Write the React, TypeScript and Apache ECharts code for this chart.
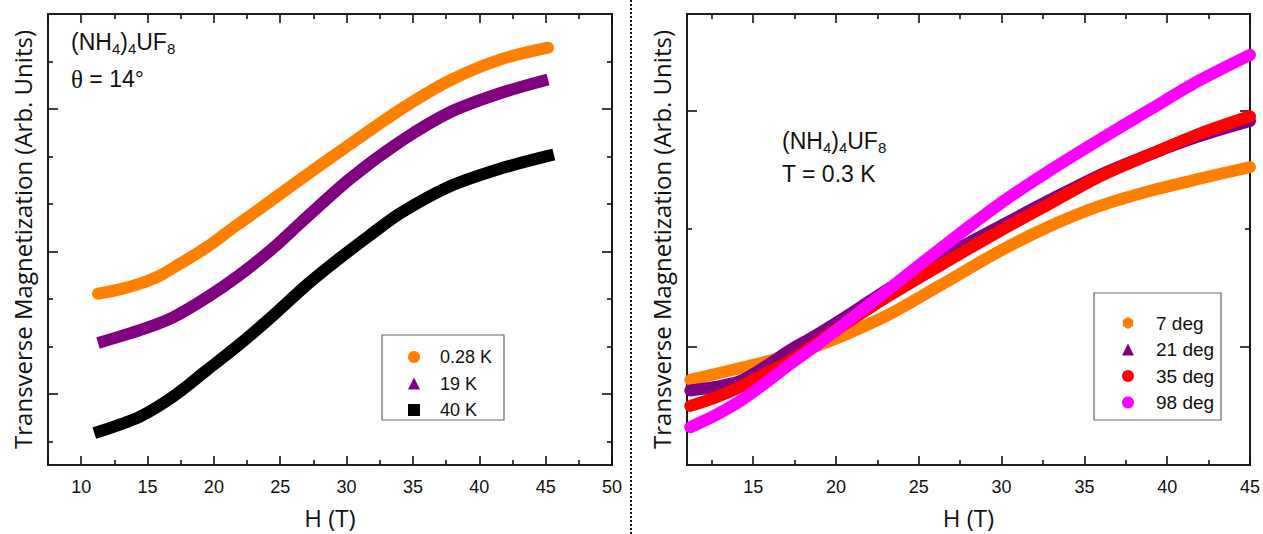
import React, { useEffect, useRef } from 'react';
import * as echarts from 'echarts';

// ---------- data ----------
// Left panel: theta = 14 deg, three temperatures
const leftNames = ['0.28 K', '19 K', '40 K'];
const leftX028 = [11.27, 12.93, 14.43, 15.94, 17.45, 19.48, 21.22, 23.63, 26.49, 29.88, 34.03, 37.79, 41.56, 45.18];
const leftY028 = [3.61, 3.70, 3.82, 3.99, 4.24, 4.59, 4.95, 5.43, 6.01, 6.68, 7.48, 8.10, 8.54, 8.79];
const leftX19 = [11.27, 14.43, 16.92, 19.48, 21.97, 24.46, 26.49, 30.26, 34.03, 37.79, 41.56, 45.18];
const leftY19 = [2.57, 2.84, 3.11, 3.53, 4.01, 4.57, 5.09, 6.03, 6.81, 7.43, 7.83, 8.12];
const leftX40 = [11.42, 14.43, 16.92, 19.48, 21.97, 24.46, 27.02, 29.5, 31.76, 34.03, 37.79, 41.56, 45.18];
const leftY40 = [0.71, 1.02, 1.44, 2.0, 2.55, 3.15, 3.8, 4.36, 4.84, 5.3, 5.87, 6.24, 6.51];

// Right panel: T = 0.3 K, four angles
const rightNames = ['7 deg', '21 deg', '35 deg', '98 deg'];
const rightX = [11.2, 12.7, 14.2, 15.7, 17.2, 18.7, 20.2, 23.3, 26.3, 29.9, 32.9, 35.9, 39.0, 41.9, 45.0];
const rightY7 = [0.72, 0.77, 0.82, 0.87, 0.93, 1.0, 1.08, 1.28, 1.52, 1.81, 2.02, 2.19, 2.32, 2.42, 2.52];
const rightY21 = [0.63, 0.66, 0.71, 0.83, 0.97, 1.09, 1.22, 1.5, 1.75, 2.02, 2.24, 2.45, 2.63, 2.78, 2.91];
const rightY35 = [0.5, 0.57, 0.66, 0.77, 0.88, 1.02, 1.16, 1.44, 1.69, 1.98, 2.21, 2.44, 2.63, 2.8, 2.95];
const rightY98 = [0.32, 0.42, 0.54, 0.69, 0.85, 1.0, 1.16, 1.5, 1.83, 2.21, 2.49, 2.75, 3.01, 3.25, 3.47];

// Axis ticks
const leftXMajor = [10, 15, 20, 25, 30, 35, 40, 45, 50];
const leftXMinor = [7.5, 12.5, 17.5, 22.5, 27.5, 32.5, 37.5, 42.5, 47.5];
const leftYMajor = [1.5, 4.5, 7.5];
const leftYMinor = [0.5, 2.5, 3.5, 5.5, 6.5, 8.5];
const rightXMajor = [15, 20, 25, 30, 35, 40, 45];
const rightXMinor = [12.5, 17.5, 22.5, 27.5, 32.5, 37.5, 42.5];
const rightYMajor = [1, 3];
const rightYMinor = [2];

const zip = (xs: number[], ys: number[]) => xs.map((x, i) => [x, ys[i]]);

const AX = '#111';
const TICK_FONT = 'Liberation Sans, Arial, sans-serif';
const TITLE_FONT = 'Open Sans';

function mkAxis(gridIndex: number, position: string, min: number, max: number, ticks: number[], len: number, extra: any = {}) {
  return {
    type: 'value',
    gridIndex,
    position,
    min,
    max,
    axisLine: { show: true, onZero: false, lineStyle: { color: AX, width: 1.6 } },
    axisTick: { show: true, inside: true, length: len, customValues: ticks, lineStyle: { color: AX, width: 1.6 } },
    axisLabel: { show: false },
    splitLine: { show: false },
    ...extra,
  };
}

const xLabel = (labels: number[]) => ({
  show: true,
  customValues: labels,
  margin: 13,
  fontSize: 18,
  color: '#111',
  fontFamily: TICK_FONT,
});

const xName = {
  name: 'H (T)',
  nameLocation: 'middle',
  nameGap: 40,
  nameTextStyle: { fontFamily: TITLE_FONT, fontSize: 24, color: '#111' },
};
const yName = {
  name: 'Transverse Magnetization (Arb. Units)',
  nameLocation: 'middle',
  nameGap: 14,
  nameRotate: 90,
  nameTextStyle: { fontFamily: TITLE_FONT, fontSize: 24, color: '#111' },
};

const MAJ = 9;
const MIN = 5;

const LX = [7.5, 50];
const LY = [0, 9.5];
const RX = [11, 45];
const RY = [0, 454 / 119];

const xAxes = [
  mkAxis(0, 'bottom', LX[0], LX[1], leftXMajor, MAJ, { axisLabel: xLabel(leftXMajor), ...xName }),
  mkAxis(0, 'bottom', LX[0], LX[1], leftXMinor, MIN),
  mkAxis(0, 'top', LX[0], LX[1], leftXMajor, MAJ),
  mkAxis(0, 'top', LX[0], LX[1], leftXMinor, MIN),
  mkAxis(1, 'bottom', RX[0], RX[1], rightXMajor, MAJ, { axisLabel: xLabel(rightXMajor), ...xName }),
  mkAxis(1, 'bottom', RX[0], RX[1], rightXMinor, MIN),
  mkAxis(1, 'top', RX[0], RX[1], rightXMajor, MAJ),
  mkAxis(1, 'top', RX[0], RX[1], rightXMinor, MIN),
];
const yAxes = [
  mkAxis(0, 'left', LY[0], LY[1], leftYMajor, MAJ + 1, yName),
  mkAxis(0, 'left', LY[0], LY[1], leftYMinor, MIN),
  mkAxis(0, 'right', LY[0], LY[1], leftYMajor, MAJ + 1),
  mkAxis(0, 'right', LY[0], LY[1], leftYMinor, MIN),
  mkAxis(1, 'left', RY[0], RY[1], rightYMajor, MAJ + 1, yName),
  mkAxis(1, 'left', RY[0], RY[1], rightYMinor, MIN),
  mkAxis(1, 'right', RY[0], RY[1], rightYMajor, MAJ + 1),
  mkAxis(1, 'right', RY[0], RY[1], rightYMinor, MIN),
];

function lineSeries(name: string, data: number[][], color: string, xi: number, yi: number, cap = 'round', z = 2) {
  return {
    name,
    type: 'line',
    xAxisIndex: xi,
    yAxisIndex: yi,
    data,
    smooth: 0.3,
    showSymbol: false,
    symbol: 'none',
    color,
    z,
    lineStyle: { color, width: 12, cap, join: 'round' },
    emphasis: { disabled: true },
  };
}

const ORANGE = '#FF8000';
const PURPLE = '#800080';
const RED = '#FF0000';
const MAGENTA = '#FF00FF';

const hexagon = 'path://M5,0 L10,2.9 L10,8.7 L5,11.6 L0,8.7 L0,2.9 Z';

const sub = { fontSize: 15, fontFamily: TICK_FONT, fill: '#111', verticalAlign: 'top', lineHeight: 17, padding: [11, 0, 0, 0] };
const main = { fontSize: 23, fontFamily: TICK_FONT, fill: '#111', verticalAlign: 'top', lineHeight: 26 };
const formula = '{m|(NH}{s|4}{m|)}{s|4}{m|UF}{s|8}';

const option: any = {
  animation: false,
  backgroundColor: '#ffffff',
  grid: [
    { left: 48, top: 14, width: 564, height: 455, containLabel: false },
    { left: 687, top: 14, width: 563, height: 454, containLabel: false },
  ],
  xAxis: xAxes,
  yAxis: yAxes,
  legend: [
    {
      orient: 'vertical',
      left: 403,
      top: 342,
      itemWidth: 12,
      itemHeight: 12,
      itemGap: 6.5,
      selectedMode: false,
      textStyle: { fontSize: 18, fontFamily: TICK_FONT, color: '#111', lineHeight: 20, padding: [0, 0, 0, 15] },
      data: [
        { name: leftNames[0], icon: 'circle' },
        { name: leftNames[1], icon: 'triangle' },
        { name: leftNames[2], icon: 'rect' },
      ],
    },
    {
      orient: 'vertical',
      left: 1117,
      top: 308,
      itemWidth: 12,
      itemHeight: 12,
      itemGap: 6.5,
      selectedMode: false,
      textStyle: { fontSize: 19, fontFamily: TICK_FONT, color: '#111', lineHeight: 20, padding: [0, 0, 0, 17] },
      data: [
        { name: rightNames[0], icon: hexagon },
        { name: rightNames[1], icon: 'triangle' },
        { name: rightNames[2], icon: 'circle' },
        { name: rightNames[3], icon: 'circle' },
      ],
    },
  ],
  series: [
    lineSeries(leftNames[0], zip(leftX028, leftY028), ORANGE, 0, 0),
    lineSeries(leftNames[1], zip(leftX19, leftY19), PURPLE, 0, 0, 'butt'),
    lineSeries(leftNames[2], zip(leftX40, leftY40), '#000000', 0, 0, 'square'),
    lineSeries(rightNames[0], zip(rightX, rightY7), ORANGE, 4, 4, 'round', 2),
    lineSeries(rightNames[1], zip(rightX, rightY21), PURPLE, 4, 4, 'round', 3),
    lineSeries(rightNames[2], zip(rightX, rightY35), RED, 4, 4, 'round', 4),
    lineSeries(rightNames[3], zip(rightX, rightY98), MAGENTA, 4, 4, 'round', 5),
  ],
  graphic: [
    {
      type: 'line',
      shape: { x1: 631, y1: 0, x2: 631, y2: 534 },
      style: { stroke: '#111', lineWidth: 2, lineDash: [2, 2] },
    },
    {
      type: 'rect',
      shape: { x: 382, y: 335, width: 122, height: 85 },
      style: { fill: 'none', stroke: '#666', lineWidth: 1.2 },
      z: 10,
    },
    {
      type: 'rect',
      shape: { x: 1094, y: 293, width: 127, height: 127 },
      style: { fill: 'none', stroke: '#666', lineWidth: 1.2 },
      z: 10,
    },
    {
      type: 'text',
      left: 71,
      top: 30,
      style: { text: formula, rich: { m: main, s: sub } },
      z: 10,
    },
    {
      type: 'text',
      left: 71,
      top: 67,
      style: {
        text: '{t|θ}{m| = 14°}',
        rich: {
          t: { fontSize: 25, fontFamily: 'Liberation Serif, serif', fill: '#111', verticalAlign: 'top', lineHeight: 26 },
          m: main,
        },
      },
      z: 10,
    },
    {
      type: 'text',
      left: 782,
      top: 129,
      style: { text: formula, rich: { m: main, s: sub } },
      z: 10,
    },
    {
      type: 'text',
      left: 782,
      top: 162,
      style: { text: 'T = 0.3 K', fontSize: 23, fontFamily: TICK_FONT, fill: '#111' },
      z: 10,
    },
  ],
};

export default function App() {
  const ref = useRef<HTMLDivElement>(null);
  useEffect(() => {
    const chart = echarts.init(ref.current!, null, { renderer: 'svg' });
    chart.setOption(option);
    return () => chart.dispose();
  }, []);
  return (
    <div
      ref={ref}
      style={{ position: 'absolute', left: 0, top: 0, width: 1263, height: 534, background: '#fff' }}
    />
  );
}
